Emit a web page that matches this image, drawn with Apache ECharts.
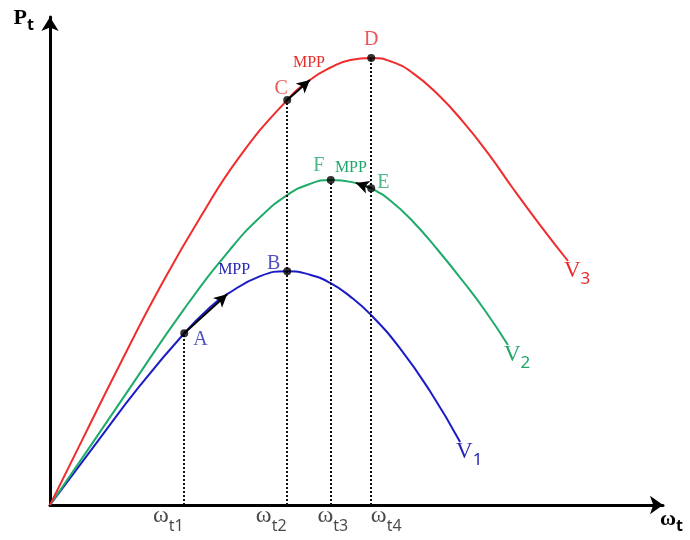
<!DOCTYPE html>
<html>
<head>
<meta charset="utf-8">
<script src="https://cdn.jsdelivr.net/npm/echarts@6/dist/echarts.min.js"></script>
<style>
  html, body { margin: 0; padding: 0; background: #fff; }
  #chart { width: 690px; height: 540px; }
</style>
</head>
<body>
<div id="chart"></div>
<script>
// Rotor speeds of the operating points and their tick subscripts
const omegaTicks = [2.19, 3.87, 4.58, 5.24];
const omegaTickLabels = ['t1', 't2', 't3', 't4'];

// Turbine power against rotor speed, one curve per wind speed: [omega, P]
const curveV1 = [[0, 0], [0.78, 1.31], [1.47, 2.45], [2.19, 3.52], [2.61, 4.05], [2.89, 4.32],
  [3.43, 4.69], [3.87, 4.79], [4.24, 4.72], [4.57, 4.55], [4.89, 4.28], [5.24, 3.89],
  [5.71, 3.21], [6.20, 2.33], [6.69, 1.29]];
const curveV2 = [[0, 0], [0.65, 1.19], [1.31, 2.41], [2.19, 4.02], [2.94, 5.24], [3.43, 5.90],
  [3.87, 6.35], [4.24, 6.58], [4.58, 6.66], [4.99, 6.60], [5.24, 6.49], [5.56, 6.23],
  [5.92, 5.81], [6.33, 5.22], [6.74, 4.58], [7.11, 3.96], [7.47, 3.28]];
const curveV3 = [[0, 0], [0.52, 1.32], [1.14, 2.88], [1.79, 4.45], [2.45, 5.89], [3.10, 7.15],
  [3.87, 8.30], [4.24, 8.71], [4.57, 8.96], [4.90, 9.12], [5.24, 9.16], [5.58, 9.08],
  [5.92, 8.85], [6.33, 8.41], [6.74, 7.85], [7.15, 7.20], [7.55, 6.49], [8.01, 5.71],
  [8.45, 5.00]];
const curveNames = ['V1', 'V2', 'V3'];

// Operating points: name, curve it sits on, rotor speed
const pointNames = ['A', 'B', 'C', 'D', 'E', 'F'];
const pointCurves = ['V1', 'V1', 'V3', 'V3', 'V2', 'V2'];
const pointOmegas = [2.19, 3.87, 3.87, 5.24, 5.24, 4.58];

// MPP tracking steps: curve, start speed, end speed
const moveCurves = ['V1', 'V3', 'V2'];
const moveFrom = [2.19, 3.87, 5.24];
const moveTo = [2.89, 4.24, 4.99];

// ---- styling ----
const curves = { V1: curveV1, V2: curveV2, V3: curveV3 };
const lineColor = { V1: '#1c1cc6', V2: '#1fab6a', V3: '#f02c2c' };
const textColor = { V1: '#2626b8', V2: '#22a568', V3: '#e82c2c' };
const SERIF = '"Liberation Serif", "DejaVu Serif", serif';
const SANS = '"Noto Sans", "Open Sans", sans-serif';

const pointLabelLayout = {
  A: { position: 'right', offset: [0, 7] },
  B: { position: 'left', offset: [2, -7] },
  C: { position: 'top', offset: [-6, 8] },
  D: { position: 'top', offset: [0, 1] },
  E: { position: 'right', offset: [-3, -6] },
  F: { position: 'top', offset: [-12, 5] }
};
const mppLabelOffset = { V1: [7, -24], V3: [-1, -17], V2: [-5, -15] };
const tickLabelOffset = [-16, -16, 2, 15];

function powerAt(name, omega) {
  const hit = curves[name].find(p => Math.abs(p[0] - omega) < 1e-9);
  return hit ? hit[1] : null;
}

function subRich(color, big, small, lift, bold) {
  return {
    m: { fontFamily: SERIF, fontSize: big, color, fontWeight: bold ? 'bold' : 'normal',
         verticalAlign: 'bottom', lineHeight: big + 2, padding: [0, 0, lift, 0] },
    s: { fontFamily: SANS, fontSize: small, color, fontWeight: bold ? 'bold' : 'normal',
         verticalAlign: 'bottom', lineHeight: small + 3 }
  };
}

const series = [];

curveNames.forEach(name => {
  const idx = moveCurves.indexOf(name);
  const x0 = moveFrom[idx], x1 = moveTo[idx];
  series.push({
    name,
    type: 'line',
    data: curves[name],
    smooth: 0.5,
    symbol: 'none',
    z: 2,
    lineStyle: { color: lineColor[name], width: 2 },
    endLabel: {
      show: true,
      formatter: '{m|V}{s|' + name.slice(1) + '}',
      offset: [-12, 14],
      rich: subRich(textColor[name], 23, 17, 5, false)
    },
    markLine: {
      silent: true,
      symbol: ['none', 'arrow'],
      symbolSize: [10, 13],
      label: { show: false },
      lineStyle: { color: '#000', width: 2, type: 'solid' },
      z: 4,
      data: [[{ coord: [x0, powerAt(name, x0)] }, { coord: [x1, powerAt(name, x1)] }]]
    },
    markPoint: {
      silent: true,
      symbol: 'circle',
      symbolSize: 0,
      data: [{
        coord: [x1, powerAt(name, x1)],
        label: {
          show: true, position: 'inside', formatter: 'MPP',
          offset: mppLabelOffset[name],
          color: textColor[name], fontFamily: SERIF, fontSize: 16
        }
      }]
    }
  });
});

// Operating points with vertical guides down to the speed axis
const pointData = pointNames.map((n, i) => {
  const c = pointCurves[i];
  return {
    name: n,
    value: [pointOmegas[i], powerAt(c, pointOmegas[i])],
    label: {
      show: true, formatter: n,
      position: pointLabelLayout[n].position,
      offset: pointLabelLayout[n].offset,
      color: textColor[c], fontFamily: SERIF, fontSize: 20
    }
  };
});

const guideData = omegaTicks.map(w => {
  const top = Math.max(...pointData.filter(p => p.value[0] === w).map(p => p.value[1]));
  return [{ coord: [w, 0] }, { coord: [w, top] }];
});

series.push({
  type: 'scatter',
  data: pointData,
  symbolSize: 8,
  itemStyle: { color: '#000' },
  z: 6,
  markLine: {
    silent: true,
    symbol: ['none', 'none'],
    label: { show: false },
    lineStyle: { color: '#111', width: 2, type: [2, 2] },
    z: 3,
    data: guideData
  }
});

// Speed tick labels under the axis
series.push({
  type: 'scatter',
  symbolSize: 0,
  silent: true,
  data: omegaTicks.map((w, i) => ({
    value: [w, 0],
    label: {
      show: true,
      position: 'bottom',
      distance: 3,
      offset: [tickLabelOffset[i], 0],
      formatter: '{m|ω}{s|' + omegaTickLabels[i] + '}',
      rich: subRich('#1a1a1a', 24, 16, 6, false)
    }
  }))
});

const chart = echarts.init(document.getElementById('chart'), null, { renderer: 'canvas' });
chart.setOption({
  animation: false,
  backgroundColor: '#fff',
  grid: { left: 50, right: 27, top: 17, bottom: 35, containLabel: false },
  xAxis: {
    type: 'value', min: 0, max: 10,
    axisLine: { show: true, onZero: false, symbol: ['none', 'arrow'], symbolSize: [14, 13],
                lineStyle: { color: '#000', width: 3 } },
    axisTick: { show: false }, axisLabel: { show: false }, splitLine: { show: false },
    name: '{m|ω}{s|t}',
    nameLocation: 'end',
    nameGap: -3,
    nameTextStyle: { align: 'left', verticalAlign: 'top', padding: [5, 0, 0, 0],
                     rich: subRich('#000', 22, 16, 4, true) }
  },
  yAxis: {
    type: 'value', min: 0, max: 10,
    axisLine: { show: true, onZero: false, symbol: ['none', 'arrow'], symbolSize: [13, 14],
                lineStyle: { color: '#000', width: 3 } },
    axisTick: { show: false }, axisLabel: { show: false }, splitLine: { show: false },
    name: '{m|P}{s|t}',
    nameLocation: 'end',
    nameGap: 0,
    nameTextStyle: { align: 'right', verticalAlign: 'middle', padding: [8, 16, 0, 0],
                     rich: subRich('#000', 22, 16, 4, true) }
  },
  series
});
</script>
</body>
</html>
